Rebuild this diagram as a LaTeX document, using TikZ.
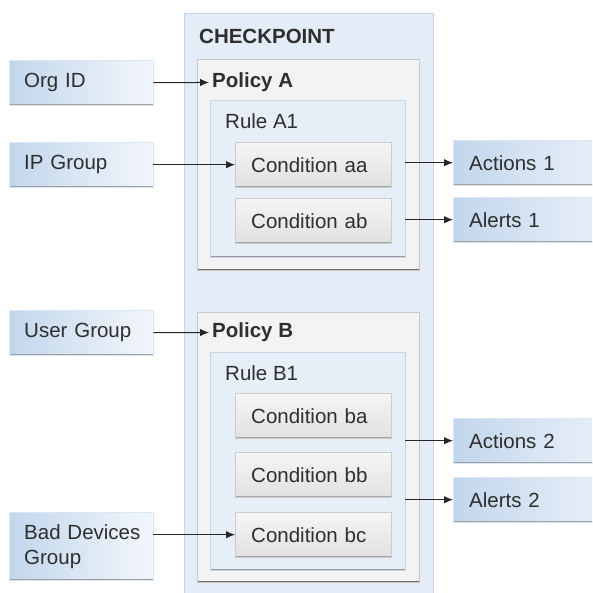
\documentclass[tikz,border=0pt]{standalone}
\usepackage{fontspec}
\setmainfont{Liberation Sans}
\usetikzlibrary{arrows.meta,positioning}
\definecolor{inblue}{HTML}{C2D6EC}
\definecolor{inwhite}{HTML}{F3F7FC}
\definecolor{chkfill}{HTML}{E4ECF7}
\definecolor{chkline}{HTML}{C6D3E4}
\definecolor{polfill}{HTML}{F3F3F3}
\definecolor{rulefill}{HTML}{E6EEF8}
\definecolor{condtop}{HTML}{F5F5F5}
\definecolor{condbot}{HTML}{E1E1E1}
\definecolor{txtgray}{HTML}{2E2E2E}

\begin{document}
\begin{tikzpicture}[x=1pt,y=-1pt,>={Latex[length=9pt,width=7.5pt]},
  every node/.style={font=\fontsize{20.5}{25}\selectfont,text=txtgray},
  edge dark/.style={path picture={\draw[#1,line width=2.2pt]
    (path picture bounding box.north west) -- (path picture bounding box.south west)
    -- (path picture bounding box.south east);}},
  panel/.style={anchor=north west,inner sep=0pt},
  inbox/.style={anchor=north west,draw=inblue!60,left color=inblue,right color=inwhite,
    edge dark=gray!75,text width=114pt,inner xsep=15pt,minimum height=45pt,align=left},
  outbox/.style={inbox,draw=inblue!60,text width=160pt,inner xsep=16pt},
  condbox/.style={anchor=north west,draw=gray!40,top color=condtop,bottom color=condbot,
    edge dark=gray!70,text width=124pt,inner xsep=16pt,minimum height=45pt,align=left},
  title/.style={anchor=west,inner sep=0pt},
  link/.style={->,line width=1pt,draw=black!85}]
\clip (0,0) rectangle (592,593);

% checkpoint with its two policies
\node[panel,draw=chkline,fill=chkfill,edge dark=gray!55,minimum width=249pt,minimum height=600pt] (chk) at (184,13) {};
\node[title,font=\fontsize{20.5}{25}\selectfont\bfseries] (chktitle) at (199,36) {CHECKPOINT};

\node[panel,draw=gray!45,fill=polfill,edge dark=gray!85!black,minimum width=222pt,minimum height=211pt] (policya) at (197,59) {};
\node[title,font=\fontsize{20.5}{25}\selectfont\bfseries] (pola) at (212,82.5) {Policy A};
\node[panel,draw=chkline,fill=rulefill,edge dark=gray!80,minimum width=195pt,minimum height=157pt] (rulea1) at (210,100) {};
\node[title] (ra1) at (225,121) {Rule A1};
\node[condbox] (caa) at (235,142) {Condition aa};
\node[condbox] (cab) at (235,198) {Condition ab};

\node[panel,draw=gray!45,fill=polfill,edge dark=gray!85!black,minimum width=222pt,minimum height=270pt] (policyb) at (197,312) {};
\node[title,font=\fontsize{20.5}{25}\selectfont\bfseries] (polb) at (212,332.5) {Policy B};
\node[panel,draw=chkline,fill=rulefill,edge dark=gray!80,minimum width=195pt,minimum height=218pt] (ruleb1) at (210,352) {};
\node[title] (rb1) at (225,373) {Rule B1};
\node[condbox] (cba) at (235,393) {Condition ba};
\node[condbox] (cbb) at (235,452) {Condition bb};
\node[condbox] (cbc) at (235,512) {Condition bc};

% inputs
\node[inbox] (org) at (9,60) {Org ID};
\node[inbox] (ip) at (9,142) {IP Group};
\node[inbox] (user) at (9,310) {User Group};
\node[inbox,minimum height=68pt] (bad) at (9,512) {\mbox{Bad Devices}\\Group};

% outputs
\node[outbox] (act1) at (453,140) {Actions 1};
\node[outbox] (alr1) at (453,197) {Alerts 1};
\node[outbox] (act2) at (453,418) {Actions 2};
\node[outbox] (alr2) at (453,477) {Alerts 2};

\draw[link] (org.east) -- (pola.west -| policya.west) -- ([xshift=-3pt]pola.west);
\draw[link] (ip.east) -- (caa.west);
\draw[link] (user.east) -- ([xshift=-3pt]polb.west);
\draw[link] (bad.east |- cbc.west) -- (cbc.west);
\draw[link] (rulea1.east |- act1.west) -- (act1.west);
\draw[link] (rulea1.east |- alr1.west) -- (alr1.west);
\draw[link] (ruleb1.east |- act2.west) -- (act2.west);
\draw[link] (ruleb1.east |- alr2.west) -- (alr2.west);
\end{tikzpicture}
\end{document}
